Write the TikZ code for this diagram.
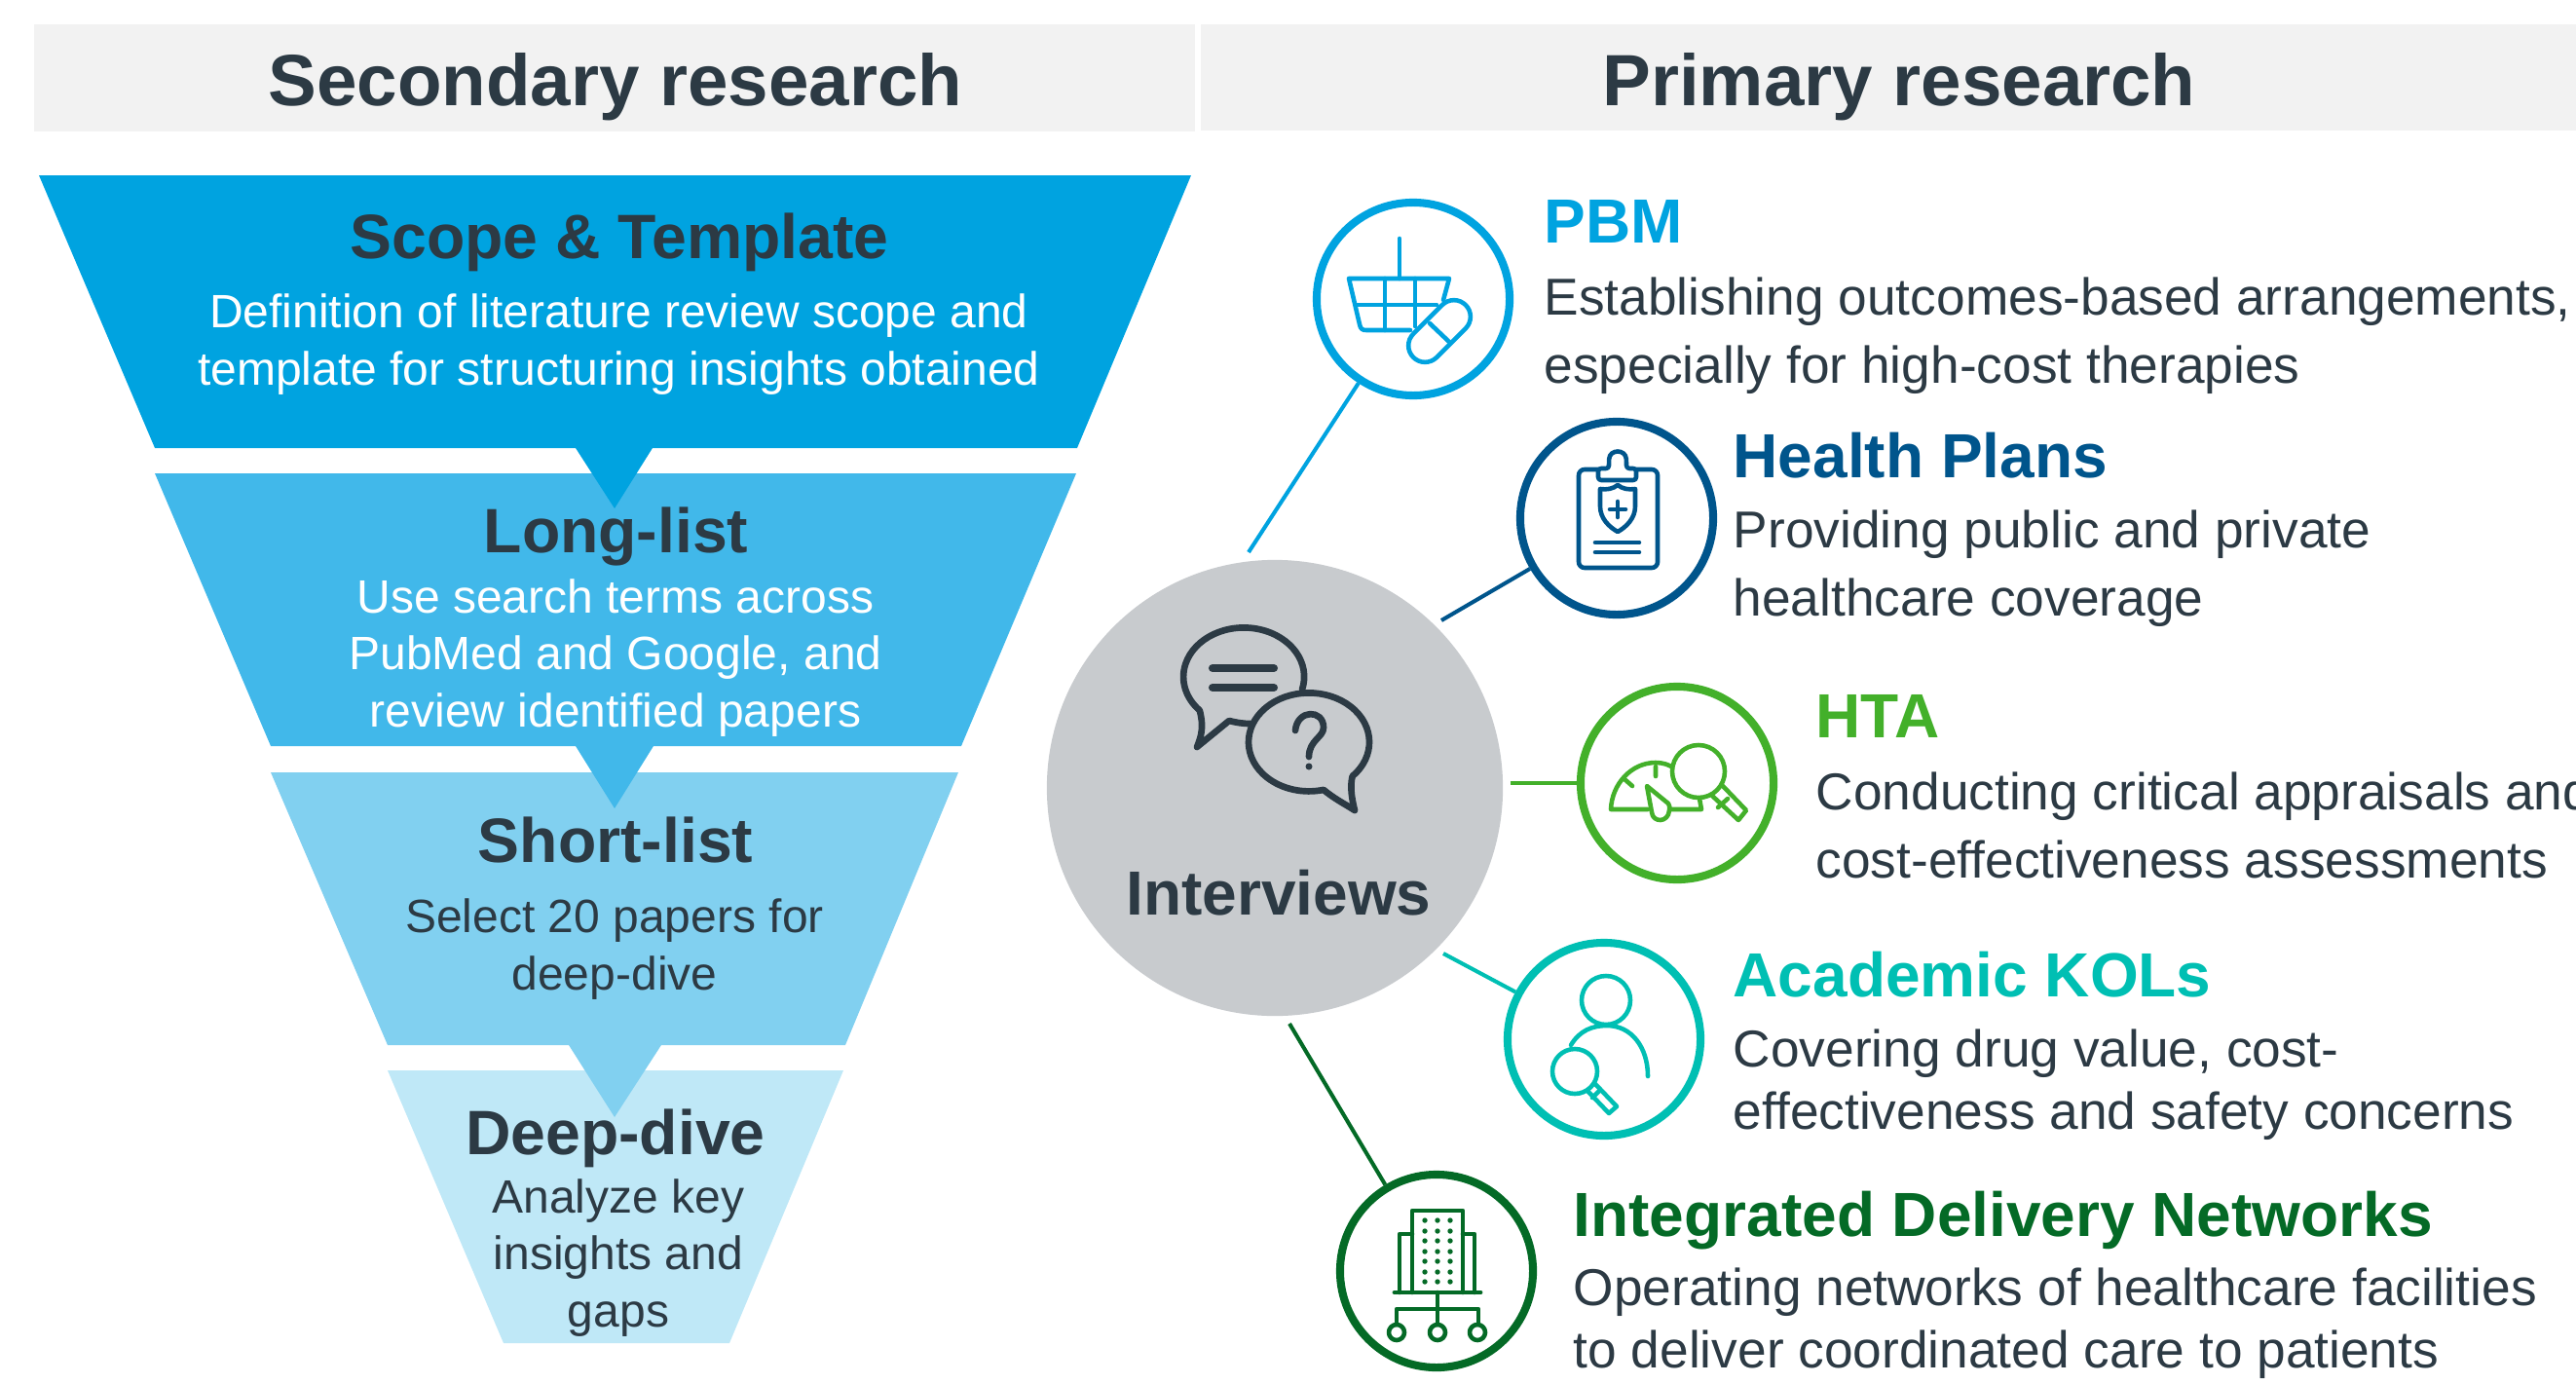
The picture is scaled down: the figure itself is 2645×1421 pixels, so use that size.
\documentclass[tikz,border=0pt]{standalone}
\usepackage{fontspec}
\setmainfont{Liberation Sans}
\definecolor{inkdark}{HTML}{2C3A44}
\definecolor{headgrey}{HTML}{F2F2F2}
\definecolor{ballgrey}{HTML}{C8CBCE}
\definecolor{stepa}{HTML}{00A3E0}
\definecolor{stepb}{HTML}{41B8EA}
\definecolor{stepc}{HTML}{81D0F0}
\definecolor{stepd}{HTML}{BFE8F7}
\definecolor{pbmblue}{HTML}{00A3E0}
\definecolor{planblue}{HTML}{00558C}
\definecolor{htagreen}{HTML}{43B02A}
\definecolor{kolteal}{HTML}{00BFB3}
\definecolor{idngreen}{HTML}{046A26}
\tikzstyle{header} = [inner sep=0, anchor=base, text=inkdark, font=\fontsize{21.2}{25}\selectfont\bfseries]
\tikzstyle{steptitle} = [inner sep=0, anchor=base, text=inkdark, font=\fontsize{18.3}{21}\selectfont\bfseries]
\tikzstyle{stepbody} = [inner sep=0, anchor=base, align=center, font=\fontsize{13.65}{16.5}\selectfont]
\tikzstyle{grouptitle} = [inner sep=0, anchor=base west, font=\fontsize{18.2}{21}\selectfont\bfseries]
\tikzstyle{groupbody} = [inner sep=0, anchor=base west, align=left, text=inkdark, font=\fontsize{15.15}{19.9}\selectfont]
\tikzstyle{ring} = [circle, draw, fill=white, line width=2.3pt, minimum size=1.98cm, inner sep=0]
\tikzstyle{link} = [draw, line width=1.15pt]
\tikzstyle{icon} = [line width=1.3pt, line cap=round, line join=round]
\begin{document}
\begin{tikzpicture}[x=0.01cm, y=-0.01cm]
	\useasboundingbox (0,0) rectangle (2645,1421);

	\fill[headgrey] (35,25) rectangle (1227,135);
	\fill[headgrey] (1233,25) rectangle (2645,134);
	\node[header] (secondary) at (632,108) {Secondary research};
	\node[header] (primary) at (1950,108) {Primary research};

	\fill[stepd] (398,1099) -- (866,1099) -- (749,1379) -- (517,1379) -- cycle;
	\fill[stepc] (278,793) -- (984,793) -- (868,1073) -- (679,1073) -- (631,1147) -- (584,1073) -- (398,1073) -- cycle;
	\fill[stepb] (159,486) -- (1105,486) -- (987,766) -- (671,766) -- (631,830) -- (591,766) -- (278,766) -- cycle;
	\fill[stepa] (40,180) -- (1223,180) -- (1106,460) -- (670,460) -- (631,522) -- (591,460) -- (159,460) -- cycle;

	\node[steptitle] (scope) at (636,265) {Scope \& Template};
	\node[stepbody, text=white] (scopetext) at (635.5,395) {Definition of literature review scope and\\template for structuring insights obtained};
	\node[steptitle] (longlist) at (632.5,567) {Long-list};
	\node[stepbody, text=white] (longtext) at (632,746) {Use search terms across\\PubMed and Google, and\\review identified papers};
	\node[steptitle] (shortlist) at (632,885.5) {Short-list};
	\node[stepbody, text=inkdark] (shorttext) at (631,1016) {Select 20 papers for\\deep-dive};
	\node[steptitle] (deepdive) at (632,1185) {Deep-dive};
	\node[stepbody, text=inkdark] (deeptext) at (635,1362) {Analyze key\\insights and\\gaps};

	\node[circle, fill=ballgrey, minimum size=4.68cm, inner sep=0] (interviews) at (1309,809) {};
	\node[inner sep=0, anchor=base, text=inkdark, font=\fontsize{18.2}{21}\selectfont\bfseries] (interviewstext) at (1313,939) {Interviews};

	\node[ring, draw=pbmblue] (pbm) at (1451,307) {};
	\node[ring, draw=planblue] (plans) at (1660,532) {};
	\node[ring, draw=htagreen] (hta) at (1722,804) {};
	\node[ring, draw=kolteal] (kol) at (1647,1067) {};
	\node[ring, draw=idngreen] (idn) at (1475,1305) {};

	\coordinate (pbmend) at (1282,567);
	\coordinate (plansend) at (1480,637);
	\coordinate (htaend) at (1551,804);
	\coordinate (kolend) at (1482,979);
	\coordinate (idnend) at (1324,1051);
	\path[link, pbmblue] (pbmend) -- (pbm);
	\path[link, planblue] (plansend) -- (plans);
	\path[link, htagreen] (htaend) -- (hta);
	\path[link, kolteal] (kolend) -- (kol);
	\path[link, idngreen] (idnend) -- (idn);

	\node[grouptitle, text=pbmblue] (pbmtitle) at (1585,249) {PBM};
	\node[groupbody] (pbmtext) at (1585,393) {Establishing outcomes-based arrangements,\\especially for high-cost therapies};
	\node[grouptitle, text=planblue] (planstitle) at (1779,490) {Health Plans};
	\node[groupbody] (planstext) at (1779,632) {Providing public and private\\healthcare coverage};
	\node[grouptitle, text=htagreen] (htatitle) at (1864,757) {HTA};
	\node[groupbody] (htatext) at (1864,901) {Conducting critical appraisals and\\cost-effectiveness assessments};
	\node[grouptitle, text=kolteal] (koltitle) at (1779,1023) {Academic KOLs};
	\node[groupbody, font=\fontsize{15.15}{18.2}\selectfont] (koltext) at (1779,1159) {Covering drug value, cost-\\effectiveness and safety concerns};
	\node[grouptitle, text=idngreen] (idntitle) at (1615,1269) {Integrated Delivery Networks};
	\node[groupbody, font=\fontsize{15.15}{18.2}\selectfont] (idntext) at (1615,1404) {Operating networks of healthcare facilities\\to deliver coordinated care to patients};

	\begin{scope}[icon, inkdark, line width=1.9pt]
		\draw (1337,708) arc[start angle=15, end angle=-223, x radius=62, y radius=50.5] .. controls (1236,745) and (1234,755) .. (1229,767) -- (1262,740) .. controls (1270,742) and (1276,743) .. (1284,743);
		\draw[line width=2.3pt] (1245,686) -- (1308,686) (1245,706) -- (1308,706);
		\draw (1388.6,797) arc[start angle=44, end angle=-284, x radius=62, y radius=50.5] .. controls (1370,820) and (1380,825) .. (1391,832) .. controls (1388,820) and (1386,808) .. (1388.6,797);
		\draw (1330,750) .. controls (1332,728) and (1359,728) .. (1359,747) .. controls (1359,757) and (1344,760) .. (1344,777);
		\fill (1344,787) circle (3.5);
	\end{scope}

	\begin{scope}[icon, pbmblue]
		\draw (1437,245) -- (1437,286);
		\draw (1385,286) -- (1488,286) -- (1482,308) (1385,286) -- (1396,333) .. controls (1397,338) and (1399,339) .. (1403,339) -- (1448,339);
		\draw (1393,313) -- (1475,313) (1422,286) -- (1422,339) (1453,286) -- (1453,335);
		\draw[fill=white, rotate around={45:(1478,340)}, rounded corners=0.17cm] (1440,323) rectangle (1516,357);
		\draw (1468,332) -- (1488,351);
	\end{scope}

	\begin{scope}[icon, planblue]
		\draw[rounded corners=0.06cm] (1621,482) rectangle (1702,583);
		\draw[fill=white, rounded corners=0.03cm] (1641,493) -- (1641,481) -- (1652,481) -- (1652,474) .. controls (1653,461) and (1669,461) .. (1670,474) -- (1670,481) -- (1680,481) -- (1680,493) -- cycle;
		\draw (1643,502) .. controls (1650,503) and (1656,502) .. (1661,498) .. controls (1666,502) and (1672,503) .. (1679,502) -- (1679,520) .. controls (1679,532) and (1670,541) .. (1661,546) .. controls (1652,541) and (1643,532) .. (1643,520) -- cycle;
		\draw (1661,515) -- (1661,531) (1653,523) -- (1669,523);
		\draw (1638,557) -- (1683,557) (1638,567) -- (1683,567);
	\end{scope}

	\begin{scope}[icon, htagreen]
		\draw (1692,831) -- (1654,831) .. controls (1655,805) and (1675,783) .. (1700,783) .. controls (1707,783) and (1714,785) .. (1719,789);
		\draw (1716,831) -- (1747,831) -- (1745,820);
		\draw (1700,787) -- (1700,797) (1668,800) -- (1676,807);
		\draw (1691,807) -- (1696,834) .. controls (1697,845) and (1713,845) .. (1714,832) .. controls (1715,829) and (1714,827) .. (1713,825) -- cycle;
		\draw[fill=white] (1744,792) circle (27);
		\draw (1769,807) -- (1793,832) -- (1785,842) -- (1758,817);
		\draw (1774,820) -- (1764,829);
	\end{scope}

	\begin{scope}[icon, kolteal]
		\draw (1649,1027) circle (25);
		\draw (1613,1073) .. controls (1622,1058) and (1635,1053) .. (1650,1053) .. controls (1675,1053) and (1692,1075) .. (1692,1105);
		\draw[fill=white] (1617,1100) circle (23);
		\draw (1638,1113) -- (1660,1136) -- (1652,1143) -- (1630,1120);
		\draw (1642,1120) -- (1635,1127);
	\end{scope}

	\begin{scope}[icon, idngreen]
		\draw (1450,1327) -- (1450,1243) -- (1502,1243) -- (1502,1327);
		\draw (1437,1327) -- (1437,1267) -- (1450,1267) (1514,1327) -- (1514,1267) -- (1502,1267);
		\draw[line width=1.4pt] (1432,1327) -- (1520,1327);
		\draw (1476,1327) -- (1476,1360) (1434,1360) -- (1434,1344) -- (1518,1344) -- (1518,1360);
		\foreach \cx in {1434,1476,1517}
			\draw (\cx,1368) circle (8);
		\foreach \dy in {1253,1264,1274,1285,1295,1306,1316}
			\foreach \dx in {1463,1476,1489}
				\fill (\dx,\dy) circle (2.7);
	\end{scope}
\end{tikzpicture}
\end{document}
